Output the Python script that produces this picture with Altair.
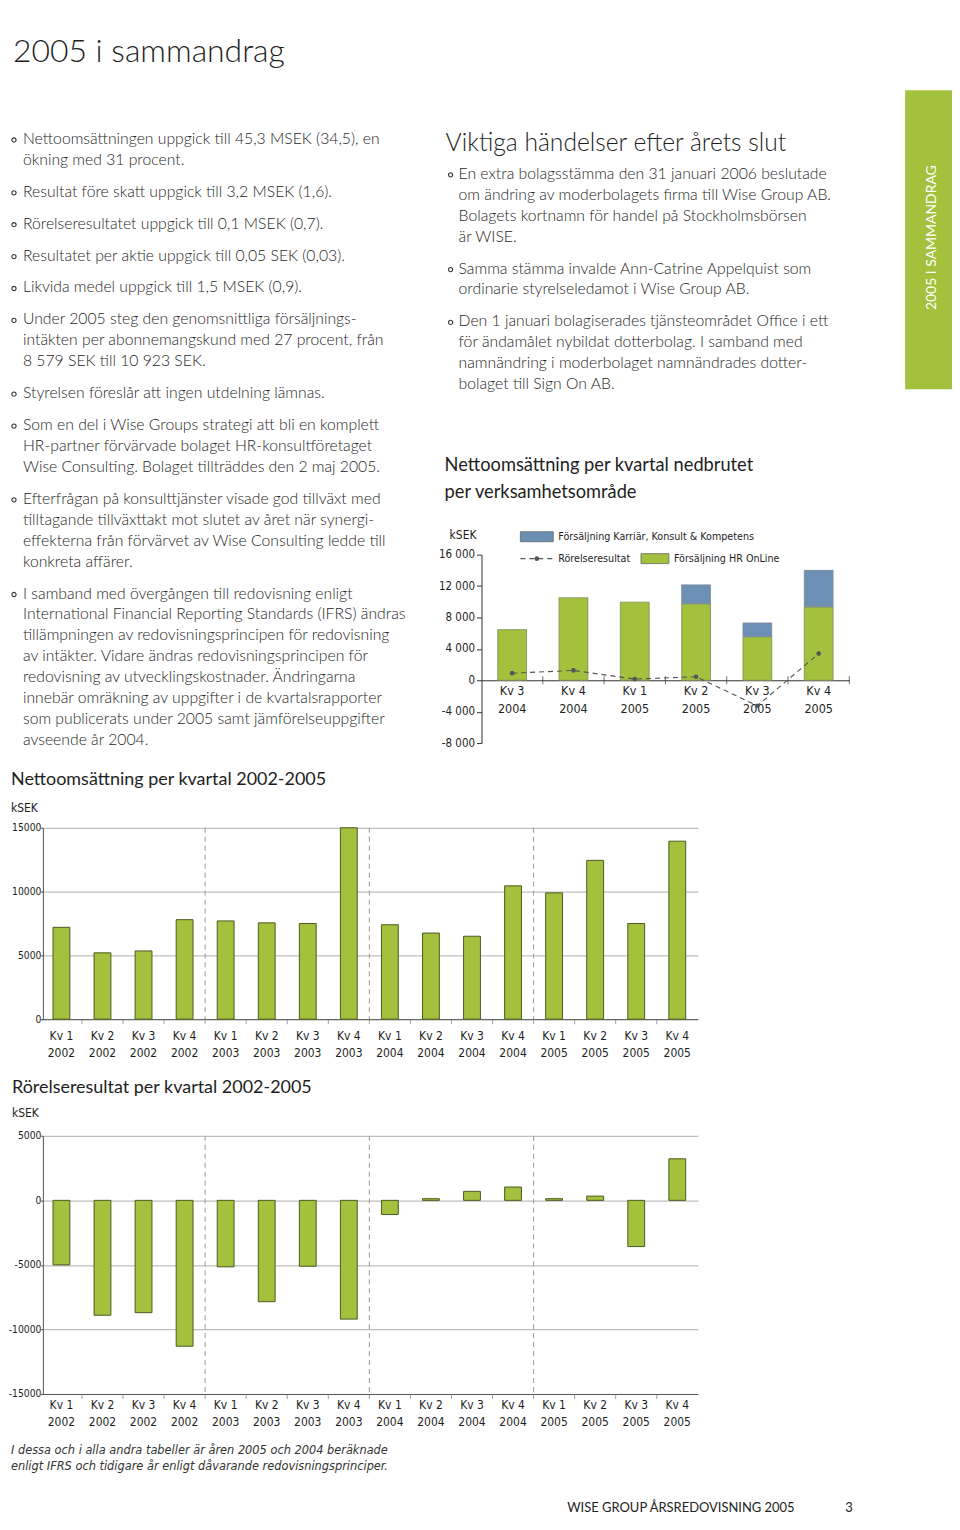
import altair as alt
import pandas as pd

# ---------------- data ----------------
kvartal = ["Kv 1", "Kv 2", "Kv 3", "Kv 4"] * 4
ar = ["2002"] * 4 + ["2003"] * 4 + ["2004"] * 4 + ["2005"] * 4
netto = [7200, 5200, 5350, 7800, 7700, 7550, 7500, 15000,
         7400, 6750, 6500, 10450, 9900, 12450, 7500, 13950]
rorelse = [-5000, -8900, -8700, -11300, -5150, -7850, -5100, -9200,
           -1100, 130, 700, 1030, 130, 330, -3580, 3220]

seg_kvartal = ["Kv 3", "Kv 4", "Kv 1", "Kv 2", "Kv 3", "Kv 4"]
seg_ar = ["2004", "2004", "2005", "2005", "2005", "2005"]
hr_online = [6450, 10500, 9950, 9750, 5550, 9350]
karriar = [0, 0, 0, 2400, 1750, 4650]
seg_rorelse = [900, 1250, 150, 450, -3250, 3400]

serie_hr = "Försäljning HR OnLine"
serie_kkk = "Försäljning Karriär, Konsult & Kompetens"
serie_ror = "Rörelseresultat"

page_title = "2005 i sammandrag"
right_heading = "Viktiga händelser efter årets slut"
seg_title = ["Nettoomsättning per kvartal nedbrutet", "per verksamhetsområde"]
netto_title = "Nettoomsättning per kvartal 2002-2005"
ror_title = "Rörelseresultat per kvartal 2002-2005"
unit = "kSEK"
banner_text = "2005 I SAMMANDRAG"
footnote = ["I dessa och i alla andra tabeller är åren 2005 och 2004 beräknade",
            "enligt IFRS och tidigare år enligt dåvarande redovisningsprinciper."]
footer = "WISE GROUP ÅRSREDOVISNING 2005"
page_no = "3"

left_paragraphs = [
    ["Nettoomsättningen uppgick till 45,3 MSEK (34,5), en", "ökning med 31 procent."],
    ["Resultat före skatt uppgick till 3,2 MSEK (1,6)."],
    ["Rörelseresultatet uppgick till 0,1 MSEK (0,7)."],
    ["Resultatet per aktie uppgick till 0,05 SEK (0,03)."],
    ["Likvida medel uppgick till 1,5 MSEK (0,9)."],
    ["Under 2005 steg den genomsnittliga försäljnings-",
     "intäkten per abonnemangskund med 27 procent, från",
     "8 579 SEK till 10 923 SEK."],
    ["Styrelsen föreslår att ingen utdelning lämnas."],
    ["Som en del i Wise Groups strategi att bli en komplett",
     "HR-partner förvärvade bolaget HR-konsultföretaget",
     "Wise Consulting. Bolaget tillträddes den 2 maj 2005."],
    ["Efterfrågan på konsulttjänster visade god tillväxt med",
     "tilltagande tillväxttakt mot slutet av året när synergi-",
     "effekterna från förvärvet av Wise Consulting ledde till",
     "konkreta affärer."],
    ["I samband med övergången till redovisning enligt",
     "International Financial Reporting Standards (IFRS) ändras",
     "tillämpningen av redovisningsprincipen för redovisning",
     "av intäkter. Vidare ändras redovisningsprincipen för",
     "redovisning av utvecklingskostnader. Ändringarna",
     "innebär omräkning av uppgifter i de kvartalsrapporter",
     "som publicerats under 2005 samt jämförelseuppgifter",
     "avseende år 2004."],
]
right_paragraphs = [
    ["En extra bolagsstämma den 31 januari 2006 beslutade",
     "om ändring av moderbolagets firma till Wise Group AB.",
     "Bolagets kortnamn för handel på Stockholmsbörsen",
     "är WISE."],
    ["Samma stämma invalde Ann-Catrine Appelquist som",
     "ordinarie styrelseledamot i Wise Group AB."],
    ["Den 1 januari bolagiserades tjänsteområdet Office i ett",
     "för ändamålet nybildat dotterbolag. I samband med",
     "namnändring i moderbolaget namnändrades dotter-",
     "bolaget till Sign On AB."],
]

# ---------------- styles ----------------
BODY = "Lato, 'Open Sans', sans-serif"
COND = "'Liberation Sans Narrow', 'DejaVu Sans Condensed', 'Roboto Condensed', 'Liberation Sans', sans-serif"
TXT = "#262626"
DARK = "#1e1e1e"
GREEN = "#a3c13c"
BLUE = "#6c90b4"
OLIVE = "#4b5a22"
GRID = "#9a9a9a"
MINUS_FIX = "replace({}, '\u2212', '-')"


def layout_paragraphs(paras, x_text, x_bullet, y0, line_h=21, gap=11):
    rows, bullets = [], []
    y = y0
    for p in paras:
        bullets.append({"x": x_bullet, "y": y + 1})
        for line in p:
            rows.append({"text": line, "x": x_text, "y": y})
            y += line_h
        y += gap
    return pd.DataFrame(rows), pd.DataFrame(bullets)


def text_layer(rows, **kw):
    props = dict(align="left", baseline="middle")
    props.update(kw)
    return alt.Chart(pd.DataFrame(rows)).mark_text(**props).encode(
        x=alt.X("x:Q", scale=None, axis=None),
        y=alt.Y("y:Q", scale=None, axis=None),
        text="text:N",
    )


def bullet_layer(df):
    return alt.Chart(df).mark_point(shape="circle", size=18, filled=False,
                                    strokeWidth=1.1, color="#333", opacity=1).encode(
        x=alt.X("x:Q", scale=None, axis=None),
        y=alt.Y("y:Q", scale=None, axis=None),
    )


# page -> chart coordinates (8 px body margin)
M = 8

# ---------------- canvas A (top text + legend of the segment chart) ----------------
lp_rows, lp_bul = layout_paragraphs(left_paragraphs, 20 - M, 11 - M, 137 - M)
rp_rows, rp_bul = layout_paragraphs(right_paragraphs, 457 - M, 449 - M, 172 - M)

banner = alt.Chart(pd.DataFrame([{"x": 905 - M, "x2": 944, "y": 88 - M, "y2": 388 - M}])).mark_rect(
    color=GREEN).encode(
    x=alt.X("x:Q", scale=None, axis=None), x2="x2:Q",
    y=alt.Y("y:Q", scale=None, axis=None), y2="y2:Q")

# legend keys (drawn as marks so they sit exactly like the original)
leg_swatches = alt.Chart(pd.DataFrame([
    {"x": 519 - M, "x2": 552 - M, "y": 531 - M, "y2": 541 - M, "c": BLUE},
    {"x": 640 - M, "x2": 668 - M, "y": 553 - M, "y2": 563 - M, "c": GREEN},
])).mark_rect(stroke="#666", strokeWidth=0.8).encode(
    x=alt.X("x:Q", scale=None, axis=None), x2="x2:Q",
    y=alt.Y("y:Q", scale=None, axis=None), y2="y2:Q",
    fill=alt.Fill("c:N", scale=None, legend=None))
leg_line = alt.Chart(pd.DataFrame([{"x": 519 - M, "x2": 552 - M, "y": 558 - M}])).mark_rule(
    color="#555", strokeWidth=1.1, strokeDash=[5, 4]).encode(
    x=alt.X("x:Q", scale=None, axis=None), x2="x2:Q",
    y=alt.Y("y:Q", scale=None, axis=None))
leg_dot = alt.Chart(pd.DataFrame([{"x": 535.5 - M, "y": 558 - M}])).mark_circle(
    size=22, color="#555", opacity=1).encode(
    x=alt.X("x:Q", scale=None, axis=None),
    y=alt.Y("y:Q", scale=None, axis=None))
leg_text = text_layer([{"text": serie_kkk, "x": 557 - M, "y": 536 - M},
                       {"text": serie_ror, "x": 557 - M, "y": 558 - M},
                       {"text": serie_hr, "x": 673 - M, "y": 558 - M}],
                      font=COND, fontSize=10.7, color=DARK)

canvasA = alt.layer(
    banner,
    text_layer([{"text": banner_text, "x": 932 - M, "y": 236 - M}], align="center",
               angle=270, font=BODY, fontSize=14, color="white"),
    text_layer([{"text": page_title, "x": 10 - M, "y": 50 - M}], font=BODY,
               fontSize=32, fontWeight=300, color=DARK),
    text_layer(lp_rows, font=BODY, fontSize=15.8, fontWeight=300, color=TXT),
    bullet_layer(lp_bul),
    text_layer([{"text": right_heading, "x": 444 - M, "y": 142 - M}], font=BODY,
               fontSize=24.7, fontWeight=300, color=DARK),
    text_layer(rp_rows, font=BODY, fontSize=15.8, fontWeight=300, color=TXT),
    bullet_layer(rp_bul),
    text_layer([{"text": seg_title[0], "x": 443 - M, "y": 465 - M},
                {"text": seg_title[1], "x": 443 - M, "y": 492 - M}],
               font=BODY, fontSize=18.3, color=DARK),
    text_layer([{"text": unit, "x": 448 - M, "y": 534 - M}], font=COND, fontSize=12, color=DARK),
    leg_swatches, leg_line, leg_dot, leg_text,
).properties(width=944, height=546)

# ---------------- chart B (segment chart) ----------------
seg_keys = [f"{k}|{a}" for k, a in zip(seg_kvartal, seg_ar)]
seg_df = pd.DataFrame({"kat": seg_keys, "hr": hr_online, "kkk": karriar, "ror": seg_rorelse})
seg_df["total"] = seg_df["hr"] + seg_df["kkk"]

B_W, B_H = 841, 189
B_X0 = 472
b_zero = B_H * 16000 / 24000
b_scale_x = alt.Scale(range=[B_X0, B_W], paddingInner=0, paddingOuter=0)
b_axis_x = alt.Axis(orient="bottom", offset=b_zero - B_H, ticks=False, domainColor="#333",
                    labelExpr="split(datum.label, '|')", labelAngle=0, labelFont=COND,
                    labelFontSize=12.5, labelColor=DARK, labelPadding=4.5, labelLineHeight=18)
b_scale_y = alt.Scale(domain=[-8000, 16000], nice=False, zero=False)
b_axis_y = alt.Axis(values=[-8000, -4000, 0, 4000, 8000, 12000, 16000],
                    labelExpr=MINUS_FIX.format("replace(format(datum.value, ','), ',', ' ')"),
                    labelOverlap=False,
                    offset=-B_X0, grid=False, tickSize=5, tickColor="#333", domainColor="#333",
                    labelFont=COND, labelFontSize=11.5, labelColor=DARK, labelPadding=2)


def xb(band=None):
    if band is None:
        return alt.X("kat:N", sort=seg_keys, title=None, scale=b_scale_x, axis=b_axis_x)
    return alt.X("kat:N", sort=seg_keys, title=None, scale=b_scale_x, axis=b_axis_x, bandPosition=band)


def yb(field):
    return alt.Y(field, title=None, scale=b_scale_y, axis=b_axis_y)


green_b = alt.Chart(seg_df).mark_bar(width=alt.RelativeBandSize(0.47), color=GREEN,
                                      stroke="#7f8a5a", strokeWidth=0.8).encode(
    x=xb(), y=yb("hr:Q"))

blue_b = alt.Chart(seg_df).transform_filter("datum.kkk > 0").mark_bar(
    width=alt.RelativeBandSize(0.47), color=BLUE, stroke="#7f8a9a", strokeWidth=0.8).encode(
    x=xb(), y=yb("hr:Q"), y2="total:Q")

line_b = alt.Chart(seg_df).mark_line(color="#555", strokeWidth=1.1, strokeDash=[5, 4]).encode(
    x=xb(), y=yb("ror:Q"))

points_b = alt.Chart(seg_df).mark_circle(size=22, color="#555", opacity=1).encode(
    x=xb(), y=yb("ror:Q"))

y_zero = alt.YDatum(0, title=None, scale=b_scale_y, axis=b_axis_y)
ticks_b = alt.Chart(seg_df.iloc[1:]).mark_tick(orient="vertical", size=8, thickness=1, color="#333").encode(
    x=xb(0), y=y_zero)
ticks_b_end = alt.Chart(seg_df.iloc[-1:]).mark_tick(orient="vertical", size=8, thickness=1, color="#333").encode(
    x=xb(1), y=y_zero)

chartB = alt.layer(green_b, blue_b, line_b, points_b, ticks_b, ticks_b_end).properties(
    width=B_W, height=B_H)

# ---------------- canvas C ----------------
canvasC = alt.layer(
    text_layer([{"text": netto_title, "x": 8 - M, "y": 37}], font=BODY, fontSize=18, color=DARK),
    text_layer([{"text": unit, "x": 8 - M, "y": 65}], font=COND, fontSize=12, color=DARK),
).properties(width=944, height=85)

# ---------------- charts D and E (2002-2005) ----------------
keys16 = [f"{k}|{a}" for k, a in zip(kvartal, ar)]
sep_keys = [k for k in keys16 if k.startswith("Kv 1") and not k.endswith("2002")]
X0, X1 = 30, 689     # band range of the quarters
AX = 32              # y-axis position


def quarter_chart(values, domain, ticks_vals, height, label_pad):
    df = pd.DataFrame({"kat": keys16, "v": values})
    sc_x = alt.Scale(range=[X0, X1], paddingInner=0, paddingOuter=0)
    ax_x = alt.Axis(ticks=False, domainColor="#555", labelExpr="split(datum.label, '|')",
                    labelAngle=0, labelFont=COND, labelFontSize=12, labelColor=DARK,
                    labelPadding=label_pad, labelLineHeight=17)
    sc_y = alt.Scale(domain=domain, nice=False, zero=False)
    ax_y = alt.Axis(values=ticks_vals, labelExpr=MINUS_FIX.format("format(datum.value, 'd')"),
                    labelOverlap=False, offset=-AX, grid=True,
                    gridColor=GRID, gridWidth=0.8,
                    tickSize=2, tickColor="#555", domainColor="#555", labelFont=COND,
                    labelFontSize=10.3, labelColor=DARK, labelPadding=0)

    def xq(band=None):
        if band is None:
            return alt.X("kat:N", sort=keys16, title=None, scale=sc_x, axis=ax_x)
        return alt.X("kat:N", sort=keys16, title=None, scale=sc_x, axis=ax_x, bandPosition=band)

    sep = alt.Chart(pd.DataFrame({"kat": sep_keys})).mark_rule(
        strokeDash=[5, 4], color=GRID, strokeWidth=1).encode(x=xq(0))
    bars = alt.Chart(df).mark_bar(width=alt.RelativeBandSize(0.41), color=GREEN,
                                  stroke=OLIVE, strokeWidth=1).encode(
        x=xq(), y=alt.Y("v:Q", title=None, scale=sc_y, axis=ax_y))
    ticks = alt.Chart(df.iloc[1:]).mark_tick(orient="vertical", size=5, thickness=1, color="#777").encode(
        x=xq(0), y=alt.value(height + 2.5))
    return alt.layer(sep, bars, ticks).properties(width=X1, height=height)


chartD = quarter_chart(netto, [0, 15000], [0, 5000, 10000, 15000], 192, 11.5)

canvasE0 = alt.layer(
    text_layer([{"text": ror_title, "x": 9 - M, "y": 69}], font=BODY, fontSize=18, color=DARK),
    text_layer([{"text": unit, "x": 9 - M, "y": 94}], font=COND, fontSize=12, color=DARK),
).properties(width=944, height=117)

chartE = quarter_chart(rorelse, [-15000, 5000], [-15000, -10000, -5000, 0, 5000], 259, 6)

# ---------------- canvas F (footnote + footer) ----------------
canvasF = alt.layer(
    text_layer([{"text": footnote[0], "x": 8 - M, "y": 56},
                {"text": footnote[1], "x": 8 - M, "y": 72}],
               font=COND, fontSize=12.7, fontStyle="italic", color="#333"),
    text_layer([{"text": footer, "x": 566 - M, "y": 114},
                {"text": page_no, "x": 845 - M, "y": 114}],
               font=BODY, fontSize=13, color="#222"),
).properties(width=944, height=112)

chart = alt.vconcat(
    canvasA, chartB, canvasC, chartD, canvasE0, chartE, canvasF,
    spacing=0, bounds="flush", padding=0,
).configure_view(strokeWidth=0)

chart.save("out.html", embed_options={"renderer": "svg", "actions": False})
